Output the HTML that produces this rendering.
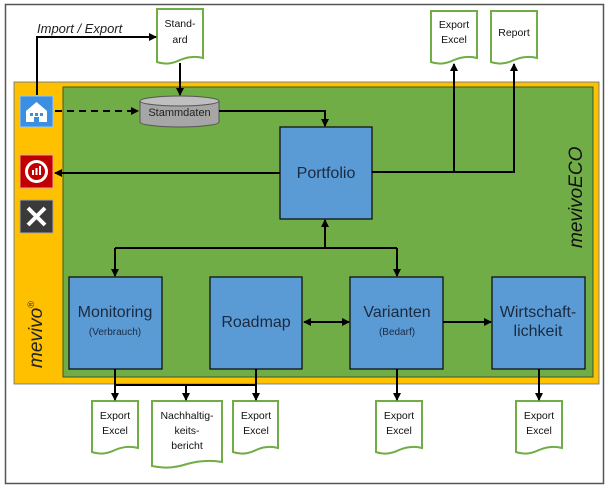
<!DOCTYPE html>
<html><head><meta charset="utf-8"><style>
html,body{margin:0;padding:0;background:#fff;}
svg{display:block;font-family:"Liberation Sans",sans-serif;}
</style></head><body>
<svg width="608" height="488" viewBox="0 0 608 488" xmlns="http://www.w3.org/2000/svg">
<defs>
<marker id="a" markerWidth="8" markerHeight="8" refX="7" refY="4" orient="auto" markerUnits="userSpaceOnUse"><path d="M0,0 L8,4 L0,8 z" fill="#000"/></marker>
<marker id="s" markerWidth="8" markerHeight="8" refX="1" refY="4" orient="auto" markerUnits="userSpaceOnUse"><path d="M8,0 L0,4 L8,8 z" fill="#000"/></marker>
</defs>
<rect x="5.5" y="4.5" width="598" height="479" fill="#fff" stroke="#555" stroke-width="1.5"/>
<rect x="14" y="82" width="585" height="302" fill="#ffc000" stroke="#5a6e8c" stroke-width="0.8"/>
<rect x="63" y="87" width="530" height="290" fill="#70ad47" stroke="#3a5a2a" stroke-width="1"/>
<!-- icons -->
<rect x="20" y="96" width="33" height="31" fill="#3c8fe0" stroke="#9cc8f0"/>
<path d="M26,111 L36.5,102 L47,111 L47,122 L26,122 z" fill="#fff"/>
<rect x="30" y="113" width="3" height="3" fill="#3c8fe0"/><rect x="35" y="113" width="3" height="3" fill="#3c8fe0"/><rect x="40" y="113" width="3" height="3" fill="#3c8fe0"/>
<rect x="34" y="117" width="5" height="5" fill="#3c8fe0"/>
<rect x="20" y="155" width="33" height="33" fill="#c00000" stroke="#f0a0a0"/>
<circle cx="36.5" cy="171.5" r="10" fill="none" stroke="#fff" stroke-width="3"/>
<rect x="32" y="170" width="2" height="5" fill="#fff"/><rect x="35.5" y="168" width="2" height="7" fill="#fff"/><rect x="39" y="166" width="2" height="9" fill="#fff"/>
<rect x="20" y="200" width="33" height="33" fill="#3a3a3a" stroke="#aaa"/>
<path d="M28,208 L45,225 M45,208 L28,225" stroke="#fff" stroke-width="4"/>
<text transform="translate(42,368) rotate(-90)" font-size="19" font-style="italic" fill="#222">mevivo<tspan font-size="9" dy="-8">®</tspan></text>
<text transform="translate(582,248) rotate(-90)" font-size="19" font-style="italic" fill="#111">mevivoECO</text>
<!-- documents -->
<g fill="#fff" stroke="#70ad47" stroke-width="2">
<path d="M157,9 H203 V58 Q192,55 180,60 Q168,66 157,62 z"/>
<path d="M431,11 H477 V58 Q466,55 454,60 Q442,66 431,62 z"/>
<path d="M491,11 H537 V58 Q526,55 514,60 Q502,66 491,62 z"/>
<path d="M92,401 H138 V448 Q127,445 115,450 Q103,456 92,452 z"/>
<path d="M152,401 H222 V462 Q205,459 187,464 Q169,470 152,466 z"/>
<path d="M233,401 H278 V448 Q267,445 256,450 Q244,456 233,452 z"/>
<path d="M376,401 H422 V448 Q411,445 399,450 Q387,456 376,452 z"/>
<path d="M516,401 H562 V448 Q551,445 539,450 Q527,456 516,452 z"/>
</g>
<g font-size="10.5" fill="#111" text-anchor="middle">
<text x="180" y="27">Stand-</text><text x="180" y="43">ard</text>
<text x="454" y="28">Export</text><text x="454" y="43">Excel</text>
<text x="514" y="36">Report</text>
<text x="115" y="419">Export</text><text x="115" y="434">Excel</text>
<text x="187" y="419">Nachhaltig-</text><text x="187" y="434">keits-</text><text x="187" y="449">bericht</text>
<text x="256" y="419">Export</text><text x="256" y="434">Excel</text>
<text x="399" y="419">Export</text><text x="399" y="434">Excel</text>
<text x="539" y="419">Export</text><text x="539" y="434">Excel</text>
</g>
<text x="37" y="33" font-size="13" font-style="italic" fill="#222">Import / Export</text>
<!-- cylinder -->
<path d="M140,101 V122 A39.5,5 0 0 0 219,122 V101" fill="#a6a6a6" stroke="#555"/>
<ellipse cx="179.5" cy="101" rx="39.5" ry="5" fill="#bfbfbf" stroke="#555"/>
<text x="179.5" y="116" font-size="11" text-anchor="middle" fill="#222">Stammdaten</text>
<!-- boxes -->
<g fill="#5b9bd5" stroke="#111" stroke-width="1.3">
<rect x="280" y="127" width="92" height="92"/>
<rect x="69" y="277" width="93" height="92"/>
<rect x="210" y="277" width="92" height="92"/>
<rect x="350" y="277" width="93" height="92"/>
<rect x="492" y="277" width="93" height="92"/>
</g>
<g fill="#1a2a40" text-anchor="middle">
<text x="326" y="178" font-size="16">Portfolio</text>
<text x="115" y="317" font-size="16">Monitoring</text>
<text x="115" y="335" font-size="10">(Verbrauch)</text>
<text x="256" y="327" font-size="16">Roadmap</text>
<text x="397" y="317" font-size="16">Varianten</text>
<text x="397" y="335" font-size="10">(Bedarf)</text>
<text x="538" y="317" font-size="16">Wirtschaft-</text>
<text x="538" y="336" font-size="16">lichkeit</text>
</g>
<!-- connectors -->
<g stroke="#000" stroke-width="2" fill="none">
<path d="M37,95 V37 H156" marker-end="url(#a)"/>
<path d="M55,111 H138" stroke-dasharray="7,5" marker-end="url(#a)"/>
<path d="M180,63 V95" marker-end="url(#a)"/>
<path d="M219,111 H325 V126" marker-end="url(#a)"/>
<path d="M280,173 H55" marker-end="url(#a)"/>
<path d="M372,172 H514 V64" marker-end="url(#a)"/>
<path d="M454,172 V64" marker-end="url(#a)"/>
<path d="M325,248 V220" marker-end="url(#a)"/>
<path d="M115,248 H397"/>
<path d="M115,248 V276" marker-end="url(#a)"/>
<path d="M397,248 V276" marker-end="url(#a)"/>
<path d="M304,322 H349" marker-start="url(#s)" marker-end="url(#a)"/>
<path d="M443,322 H491" marker-end="url(#a)"/>
<path d="M115,369 V400" marker-end="url(#a)"/>
<path d="M115,385 H256"/>
<path d="M186,385 V400" marker-end="url(#a)"/>
<path d="M256,369 V400" marker-end="url(#a)"/>
<path d="M397,369 V400" marker-end="url(#a)"/>
<path d="M539,369 V400" marker-end="url(#a)"/>
</g>
</svg>
</body></html>
